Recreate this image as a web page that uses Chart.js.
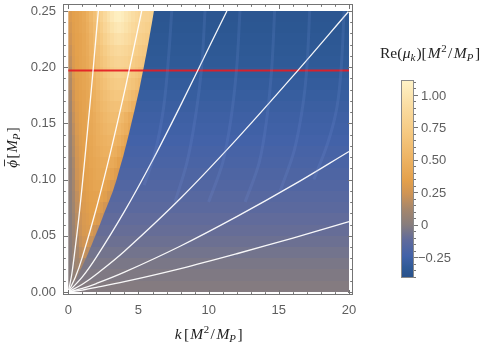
<!DOCTYPE html>
<html>
<head>
<meta charset="utf-8">
<script src="https://cdn.jsdelivr.net/npm/chart.js"></script>
<style>
  body { margin: 0; background: #fff; }
  canvas { display: block; }
</style>
</head>
<body>
<canvas id="myChart" width="488" height="348"></canvas>
<script>
// axis ticks
var kTicks = [0, 5, 10, 15, 20];
var phiTicks = [0, 0.05, 0.10, 0.15, 0.20, 0.25];
var muTicks = [-0.25, 0, 0.25, 0.5, 0.75, 1.0];
var muRange = [-0.41, 1.115];

// density grid: rows of height 0.01 in phi (bottom to top),
// tongue cells 0.25 wide in k starting at k=0, right of the tongue edge the row is blueVals
var kStep = 0.25;
var phiStep = 0.01;
var kMax = 20;
var tongueVals = [
  [0.0,0.02],
  [0.0,0.04,0.07,0.07],
  [0.0,0.05,0.1,0.14,0.13],
  [0.0,0.06,0.12,0.18,0.21,0.19,0.17],
  [0.01,0.07,0.14,0.21,0.25,0.26,0.22,0.2],
  [0.01,0.08,0.16,0.23,0.28,0.3,0.29,0.24,0.22],
  [0.01,0.09,0.17,0.24,0.29,0.31,0.33,0.33,0.3,0.25,0.23],
  [0.02,0.1,0.19,0.26,0.3,0.32,0.34,0.35,0.34,0.31,0.26,0.24],
  [0.02,0.11,0.2,0.27,0.31,0.33,0.35,0.36,0.37,0.36,0.33,0.28,0.26],
  [0.03,0.12,0.22,0.28,0.32,0.34,0.36,0.38,0.39,0.39,0.37,0.34,0.29,0.27],
  [0.03,0.13,0.24,0.29,0.33,0.35,0.37,0.39,0.41,0.42,0.42,0.4,0.37,0.32,0.3],
  [0.04,0.14,0.25,0.3,0.34,0.36,0.38,0.4,0.42,0.44,0.45,0.45,0.43,0.4,0.35,0.33],
  [0.05,0.16,0.26,0.31,0.34,0.37,0.39,0.42,0.44,0.46,0.48,0.49,0.48,0.46,0.42,0.37,0.35],
  [0.06,0.17,0.27,0.32,0.35,0.37,0.4,0.43,0.46,0.48,0.5,0.52,0.52,0.51,0.48,0.44,0.39,0.37],
  [0.07,0.19,0.29,0.33,0.36,0.38,0.41,0.44,0.47,0.5,0.53,0.55,0.56,0.56,0.54,0.5,0.46,0.41,0.39],
  [0.08,0.21,0.3,0.34,0.36,0.39,0.42,0.45,0.49,0.52,0.55,0.58,0.59,0.6,0.58,0.55,0.5,0.45,0.43],
  [0.1,0.23,0.31,0.34,0.37,0.39,0.43,0.47,0.51,0.55,0.58,0.61,0.63,0.64,0.64,0.62,0.59,0.55,0.5,0.48],
  [0.12,0.25,0.32,0.35,0.37,0.4,0.44,0.48,0.53,0.57,0.61,0.64,0.67,0.69,0.69,0.68,0.65,0.62,0.58,0.54,0.52],
  [0.15,0.27,0.33,0.36,0.38,0.41,0.45,0.5,0.55,0.6,0.64,0.68,0.71,0.73,0.74,0.73,0.71,0.68,0.65,0.62,0.58],
  [0.17,0.29,0.34,0.36,0.38,0.42,0.47,0.52,0.57,0.62,0.67,0.71,0.75,0.78,0.79,0.78,0.76,0.73,0.7,0.67,0.64,0.62],
  [0.2,0.3,0.34,0.37,0.39,0.43,0.48,0.54,0.6,0.65,0.7,0.75,0.79,0.82,0.83,0.82,0.8,0.77,0.74,0.71,0.69,0.67,0.66],
  [0.22,0.31,0.35,0.37,0.4,0.44,0.5,0.56,0.62,0.68,0.74,0.79,0.84,0.87,0.88,0.87,0.85,0.82,0.79,0.76,0.73,0.71,0.7],
  [0.25,0.32,0.35,0.37,0.4,0.45,0.51,0.58,0.65,0.72,0.79,0.85,0.9,0.94,0.95,0.94,0.91,0.88,0.84,0.81,0.78,0.76,0.74,0.73],
  [0.27,0.33,0.36,0.38,0.41,0.46,0.53,0.6,0.68,0.76,0.84,0.9,0.96,1.0,1.02,1.0,0.96,0.92,0.88,0.85,0.82,0.8,0.78,0.76],
  [0.3,0.34,0.36,0.38,0.42,0.48,0.55,0.63,0.72,0.8,0.88,0.95,1.02,1.07,1.08,1.05,1.0,0.96,0.92,0.88,0.85,0.83,0.82,0.8,0.79]
];
// k of the tongue edge at phi = 0, 0.01, ..., 0.25
var edgeK = [0, 0.5, 0.9, 1.27, 1.6, 1.92, 2.24, 2.56, 2.88, 3.18, 3.43, 3.67, 3.9, 4.1, 4.3,
  4.5, 4.69, 4.87, 5.05, 5.22, 5.38, 5.53, 5.68, 5.83, 5.97, 6.1];
var blueVals = [-0.01,-0.025,-0.04,-0.06,-0.08,-0.1,-0.115,-0.135,-0.155,-0.175,-0.19,-0.205,-0.22,
  -0.235,-0.25,-0.26,-0.275,-0.29,-0.305,-0.32,-0.33,-0.34,-0.35,-0.36,-0.37];

// white curves from the origin, [k, phi]
var curve1 = [[0,0],[0.25,0.016],[0.5,0.04],[0.75,0.066],[1.0,0.096],[1.25,0.128],[1.5,0.161],[1.75,0.195],[2.0,0.231],[2.14,0.25]];
var curve2 = [[0,0],[0.5,0.013],[1.0,0.031],[2.0,0.0745],[3.0,0.124],[4.0,0.178],[4.5,0.207],[5.23,0.25]];
var curve3 = [[0,0],[1.0,0.0134],[2.0,0.031],[4.0,0.0717],[6.0,0.117],[8.0,0.166],[10.0,0.217],[11.3,0.25]];
var curve4 = [[0,0],[1.0,0.0068],[2.0,0.0158],[4.0,0.0363],[8.0,0.0834],[12.0,0.136],[16.0,0.192],[20.0,0.25]];
var curve5 = [[0,0],[1.0,0.0032],[2.0,0.0075],[4.0,0.0176],[8.0,0.0409],[12.0,0.067],[16.0,0.095],[20.0,0.125]];
var curve6 = [[0,0],[1.0,0.0017],[2.0,0.004],[4.0,0.0091],[8.0,0.0208],[12.0,0.034],[16.0,0.048],[20.0,0.0625]];

// faint resonance bands in the blue region
var band1 = [[7.37,0.25],[7.15,0.21],[6.8,0.165],[6.2,0.125],[5.4,0.095]];
var band2 = [[9.74,0.25],[9.5,0.2],[9.05,0.155],[8.45,0.115],[7.6,0.08]];
var band3 = [[12.23,0.25],[12.0,0.2],[11.6,0.155],[11.0,0.115],[10.0,0.08]];
var band4 = [[14.7,0.25],[14.5,0.2],[14.15,0.155],[13.6,0.115],[12.6,0.08]];
var band5 = [[17.2,0.25],[17.0,0.2],[16.7,0.165],[16.1,0.126],[15.1,0.09]];
var band6 = [[19.65,0.25],[19.45,0.2],[19.15,0.165],[18.55,0.135],[17.5,0.1]];

var phiCut = 0.197;

// colour map (value -> colour)
var cmapVals = [-0.41, -0.33, -0.24, -0.12, 0.0, 0.12, 0.24, 0.34, 0.5, 0.7, 0.9, 1.115];
var cmapCols = ["#28518a","#2f5a97","#4262a8","#5f6a9c","#877d7d","#a5866c","#cf9455",
  "#e3a04c","#edb262","#f5c880","#fadb9f","#fff3c8"];

function hexRgb(h) {
  return [parseInt(h.substr(1,2),16), parseInt(h.substr(3,2),16), parseInt(h.substr(5,2),16)];
}
function colorOf(v) {
  if (v <= cmapVals[0]) return cmapCols[0];
  for (var i = 1; i < cmapVals.length; i++) {
    if (v <= cmapVals[i]) {
      var t = (v - cmapVals[i-1]) / (cmapVals[i] - cmapVals[i-1]);
      var a = hexRgb(cmapCols[i-1]), b = hexRgb(cmapCols[i]);
      return "rgb(" + Math.round(a[0]+(b[0]-a[0])*t) + "," + Math.round(a[1]+(b[1]-a[1])*t) + "," + Math.round(a[2]+(b[2]-a[2])*t) + ")";
    }
  }
  return cmapCols[cmapCols.length-1];
}

var tickColor = "#5e5e5e";
var frameColor = "#747474";
var serif = "'Liberation Serif', 'DejaVu Serif', serif";

// rich text: parts = [text, italic, shift, gapAfter] shift 1 = sup, -1 = sub
function richWidth(ctx, parts, size) {
  var w = 0;
  parts.forEach(function(p) {
    var s = p[2] ? size*0.7 : size;
    ctx.font = (p[1] ? "italic " : "") + s + "px " + serif;
    w += ctx.measureText(p[0]).width + (p[3] || 0);
  });
  return w;
}
function drawRich(ctx, parts, x, y, size) {
  var cx = x - richWidth(ctx, parts, size) / 2;
  var pos = [];
  parts.forEach(function(p) {
    var s = p[2] ? size*0.7 : size;
    ctx.font = (p[1] ? "italic " : "") + s + "px " + serif;
    var dy = p[2] === 1 ? -size*0.38 : (p[2] === -1 ? size*0.22 : 0);
    ctx.fillText(p[0], cx, y + dy);
    var w = ctx.measureText(p[0]).width;
    pos.push([cx, w]);
    cx += w + (p[3] || 0);
  });
  return pos;
}

var heatmap = {
  id: "heatmap",
  beforeDatasetsDraw: function(chart) {
    var ctx = chart.ctx, x = chart.scales.x, y = chart.scales.y;
    ctx.save();
    ctx.beginPath();
    ctx.rect(x.getPixelForValue(0), y.getPixelForValue(0.25), x.getPixelForValue(kMax) - x.getPixelForValue(0), y.getPixelForValue(0) - y.getPixelForValue(0.25));
    ctx.clip();
    for (var r = 0; r < tongueVals.length; r++) {
      var y0 = Math.round(y.getPixelForValue(r * phiStep));
      var y1 = Math.round(y.getPixelForValue((r + 1) * phiStep));
      var row = tongueVals[r];
      for (var c = 0; c < row.length; c++) {
        var x0 = Math.round(x.getPixelForValue(c * kStep));
        var x1 = Math.round(x.getPixelForValue((c + 1) * kStep));
        ctx.fillStyle = colorOf(row[c]);
        ctx.fillRect(x0, y1, x1 - x0, y0 - y1);
      }
      // blue part, right of the tongue edge
      ctx.fillStyle = colorOf(blueVals[r]);
      ctx.beginPath();
      ctx.moveTo(x.getPixelForValue(edgeK[r]), y0);
      ctx.lineTo(x.getPixelForValue(edgeK[r + 1]), y1);
      ctx.lineTo(x.getPixelForValue(kMax) + 1, y1);
      ctx.lineTo(x.getPixelForValue(kMax) + 1, y0);
      ctx.closePath();
      ctx.fill();
    }
    ctx.restore();
  }
};

var frame = {
  id: "frame",
  afterDatasetsDraw: function(chart) {
    var ctx = chart.ctx, a = chart.chartArea, x = chart.scales.x, y = chart.scales.y;
    ctx.save();
    ctx.strokeStyle = frameColor;
    ctx.lineWidth = 1;
    ctx.strokeRect(a.left + 0.5, a.top + 0.5, a.right - a.left - 1, a.bottom - a.top - 1);
    ctx.beginPath();
    for (var i = 0; i <= 20; i++) {
      var len = i % 5 === 0 ? 5 : 2.8;
      var px = Math.round(x.getPixelForValue(i)) + 0.5;
      ctx.moveTo(px, a.bottom); ctx.lineTo(px, a.bottom - len);
      ctx.moveTo(px, a.top); ctx.lineTo(px, a.top + len);
    }
    for (var j = 0; j <= 25; j++) {
      var l2 = j % 5 === 0 ? 5 : 2.8;
      var py = Math.round(y.getPixelForValue(j * 0.01)) + 0.5;
      ctx.moveTo(a.left, py); ctx.lineTo(a.left + l2, py);
      ctx.moveTo(a.right, py); ctx.lineTo(a.right - l2, py);
    }
    ctx.stroke();

    // axis titles
    ctx.fillStyle = "#222";
    ctx.textBaseline = "alphabetic";
    ctx.textAlign = "left";
    drawRich(ctx, [["k",1,0,2.5],["[",0,0,1],["M",1,0,0.5],["2",0,1,1.5],["/",0,0,1.5],["M",1,0,0],["P",1,-1,1.5],["]",0,0]],
      (x.getPixelForValue(0) + x.getPixelForValue(20)) / 2, 339, 15.5);
    ctx.save();
    ctx.translate(17, (y.getPixelForValue(0) + y.getPixelForValue(0.25)) / 2 - 4);
    ctx.rotate(-Math.PI / 2);
    var p = drawRich(ctx, [["\u03D5",1,0,1.5],["[",0,0,1],["M",1,0,0],["P",1,-1,1.5],["]",0,0]], 0, 0, 15);
    ctx.strokeStyle = "#222";
    ctx.lineWidth = 0.9;
    ctx.beginPath();
    ctx.moveTo(p[0][0] + 1.5, -12.5); ctx.lineTo(p[0][0] + p[0][1] + 0.5, -12.5);
    ctx.stroke();
    ctx.restore();
    ctx.restore();
  }
};

var colorbar = {
  id: "colorbar",
  afterDraw: function(chart) {
    var ctx = chart.ctx;
    var left = 401, right = 414, top = 80, bottom = 278;
    function py(v) { return bottom - (v - muRange[0]) / (muRange[1] - muRange[0]) * (bottom - top); }
    ctx.save();
    var g = ctx.createLinearGradient(0, bottom, 0, top);
    cmapVals.forEach(function(v, i) {
      g.addColorStop((v - muRange[0]) / (muRange[1] - muRange[0]), cmapCols[i]);
    });
    ctx.fillStyle = g;
    ctx.fillRect(left, top, right - left, bottom - top);
    ctx.strokeStyle = "#8a8a8a";
    ctx.lineWidth = 1;
    ctx.strokeRect(left + 0.5, top + 0.5, right - left - 1, bottom - top - 1);
    ctx.strokeStyle = frameColor;
    ctx.beginPath();
    for (var i = -8; i <= 22; i++) {
      var v = i * 0.05;
      if (v < muRange[0] || v > muRange[1]) continue;
      var len = i % 5 === 0 ? 4 : 2;
      var yy = Math.round(py(v)) + 0.5;
      ctx.moveTo(right, yy); ctx.lineTo(right + len, yy);
    }
    ctx.stroke();
    ctx.fillStyle = tickColor;
    ctx.font = "13px 'Liberation Sans', Arial, sans-serif";
    ctx.textBaseline = "middle";
    ctx.textAlign = "left";
    muTicks.forEach(function(v) {
      var txt = v === 0 ? "0" : (v < 0 ? "\u2212" : "") + Math.abs(v).toFixed(2);
      ctx.fillText(txt, v < 0 ? 418 : 421, py(v) + 1);
    });
    ctx.fillStyle = "#222";
    ctx.textBaseline = "alphabetic";
    drawRich(ctx, [["Re",0,0,0],["(",0,0,0.5],["\u03BC",1,0,0],["k",1,-1,1],[")",0,0,0],["[",0,0,1],["M",1,0,0.5],["2",0,1,1.5],["/",0,0,1.5],["M",1,0,0],["P",1,-1,1.5],["]",0,0]],
      430, 58, 15.5);
    ctx.restore();
  }
};

function toPts(arr) { return arr.map(function(p) { return {x: p[0], y: p[1]}; }); }
function curveSet(arr, color, width) {
  return { data: toPts(arr), showLine: true, borderColor: color, borderWidth: width,
    pointRadius: 0, tension: 0.35, fill: false };
}

var datasets = [];
[band1, band2, band3, band4, band5, band6].forEach(function(b) {
  datasets.push(curveSet(b, "rgba(120,150,220,0.17)", 3));
});
[curve1, curve2, curve3, curve4, curve5, curve6].forEach(function(c) {
  datasets.push(curveSet(c, "rgba(255,255,255,0.95)", 1.3));
});
datasets.push(curveSet([[0, phiCut], [kMax, phiCut]], "rgba(228,28,36,0.92)", 2));

new Chart("myChart", {
  type: "scatter",
  data: { datasets: datasets },
  options: {
    responsive: false,
    animation: false,
    layout: { padding: { top: 4, right: 135, left: 0, bottom: 0 } },
    plugins: { legend: { display: false }, tooltip: { enabled: false } },
    scales: {
      x: {
        type: "linear", min: -0.378, max: 20.285,
        grid: { display: false, drawTicks: false }, border: { display: false },
        afterBuildTicks: function(s) { s.ticks = kTicks.map(function(v) { return {value: v}; }); },
        afterFit: function(s) { s.height = 53; s.paddingLeft = 0; s.paddingRight = 0; },
        ticks: { color: tickColor, font: { family: "'Liberation Sans', Arial, sans-serif", size: 13 },
          padding: 8, maxRotation: 0, autoSkip: false,
          callback: function(v) { return String(v); } }
      },
      y: {
        type: "linear", min: -0.0027, max: 0.2562,
        grid: { display: false, drawTicks: false }, border: { display: false },
        afterBuildTicks: function(s) { s.ticks = phiTicks.map(function(v) { return {value: v}; }); },
        afterFit: function(s) { s.width = 63; s.paddingTop = 0; s.paddingBottom = 0; },
        ticks: { color: tickColor, font: { family: "'Liberation Sans', Arial, sans-serif", size: 13 },
          padding: 7, autoSkip: false,
          callback: function(v) { return v.toFixed(2); } }
      }
    }
  },
  plugins: [heatmap, frame, colorbar]
});
</script>
</body>
</html>
